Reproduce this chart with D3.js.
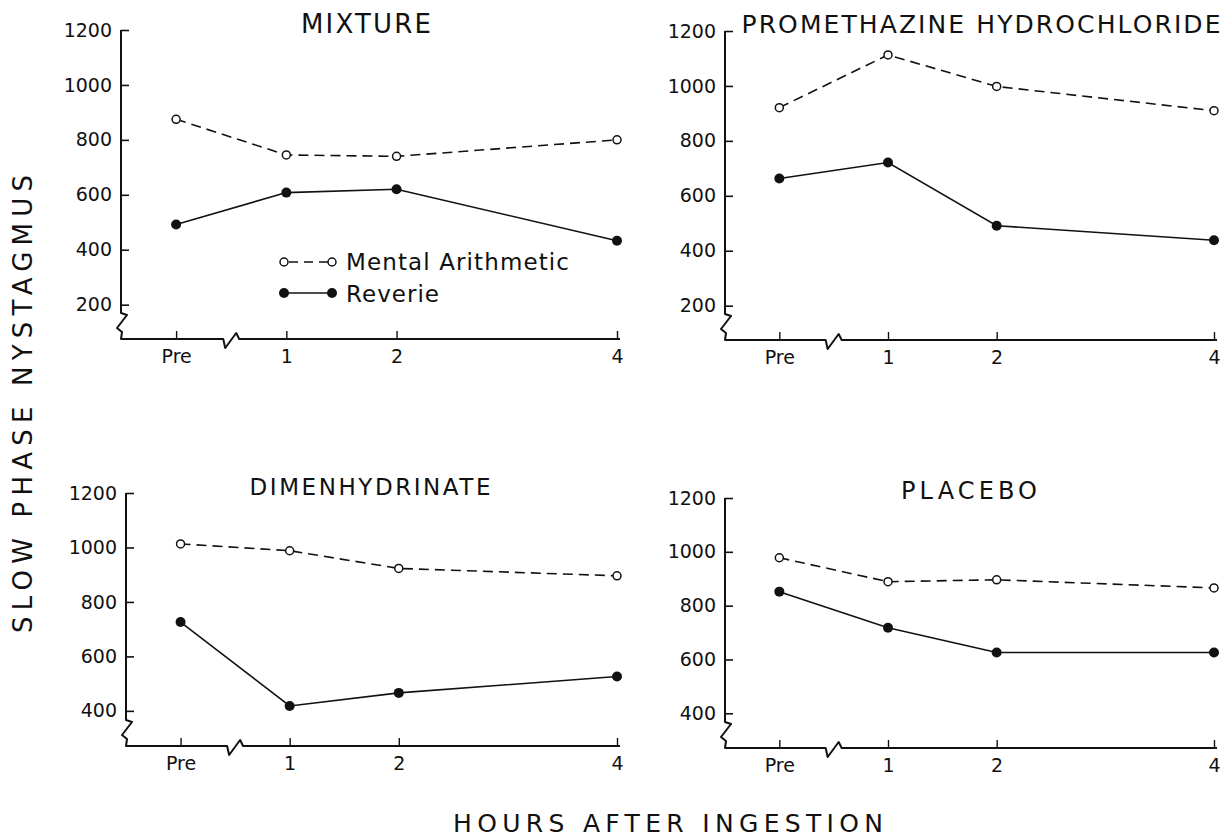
<!DOCTYPE html>
<html>
<head>
<meta charset="utf-8">
<script src="https://cdn.jsdelivr.net/npm/d3@7"></script>
<style>
  html, body { margin: 0; padding: 0; background: #fff; }
  svg { display: block; }
  svg text { font-family: "DejaVu Sans", "Liberation Sans", sans-serif; }
</style>
</head>
<body>
<svg id="chart" width="1231" height="839"></svg>
<script>
// ---- data ----
const hourLabels = ["Pre", "1", "2", "4"];
const hourValues = [0, 1, 2, 4];
const panelTitles = ["MIXTURE", "PROMETHAZINE HYDROCHLORIDE", "DIMENHYDRINATE", "PLACEBO"];
const seriesNames = ["Mental Arithmetic", "Reverie"];

const mixtureMental = [875, 745, 740, 800];
const mixtureReverie = [492, 608, 620, 433];
const promethazineMental = [921, 1113, 998, 910];
const promethazineReverie = [663, 721, 491, 438];
const dimenhydrinateMental = [1013, 988, 923, 896];
const dimenhydrinateReverie = [726, 418, 466, 526];
const placeboMental = [978, 889, 896, 866];
const placeboReverie = [852, 718, 626, 626];

const topTicks = [200, 400, 600, 800, 1000, 1200];
const bottomTicks = [400, 600, 800, 1000, 1200];

const yLabel = "SLOW PHASE NYSTAGMUS";
const xLabel = "HOURS AFTER INGESTION";

// ---- layout ----
const panels = [
  { title: panelTitles[0], mental: mixtureMental, reverie: mixtureReverie, ticks: topTicks, lo: 75,
    x0: 121, x1: 617, yTop: 30, yBot: 339, tx: 366, ty: 33, tlen: 130, tfs: 26, legend: true },
  { title: panelTitles[1], mental: promethazineMental, reverie: promethazineReverie, ticks: topTicks, lo: 75,
    x0: 725, x1: 1214, yTop: 31, yBot: 340, tx: 981, ty: 33, tlen: 479, tfs: 25 },
  { title: panelTitles[2], mental: dimenhydrinateMental, reverie: dimenhydrinateReverie, ticks: bottomTicks, lo: 271,
    x0: 126, x1: 617, yTop: 493, yBot: 746, tx: 370, ty: 495, tlen: 241, tfs: 23 },
  { title: panelTitles[3], mental: placeboMental, reverie: placeboReverie, ticks: bottomTicks, lo: 271,
    x0: 725, x1: 1214, yTop: 498, yBot: 748, tx: 969, ty: 499, tlen: 136, tfs: 24 }
];

const svg = d3.select("#chart");
const ink = "#111";
const fontFam = '"DejaVu Sans", "Liberation Sans", sans-serif';

panels.forEach(p => {
  const x = d3.scaleLinear().domain([-0.5, 4]).range([p.x0, p.x1]);
  const y = d3.scaleLinear().domain([p.lo, 1200]).range([p.yBot, p.yTop]);
  const g = svg.append("g");

  // y axis ticks and labels (ticks point inward)
  const yAx = d3.axisLeft(y).tickValues(p.ticks).tickSize(-8).tickPadding(9).tickFormat(d3.format("d"));
  const gy = g.append("g").attr("transform", `translate(${p.x0},0)`).call(yAx)
    .attr("font-family", fontFam);
  gy.select(".domain").remove();
  gy.selectAll(".tick line").attr("stroke", ink).attr("stroke-width", 1.6);
  gy.selectAll(".tick text").attr("fill", ink).style("font-size", "19px");

  // x axis ticks and labels
  const xAx = d3.axisBottom(x).tickValues(hourValues).tickSize(-8).tickPadding(11)
    .tickFormat((d, i) => hourLabels[i]);
  const gx = g.append("g").attr("transform", `translate(0,${p.yBot})`).call(xAx)
    .attr("font-family", fontFam);
  gx.select(".domain").remove();
  gx.selectAll(".tick line").attr("stroke", ink).attr("stroke-width", 1.4);
  gx.selectAll(".tick text").attr("fill", ink).style("font-size", "19px");

  // axis lines with break marks
  const ax = p.x0, yb = p.yBot, yBs = yb - 26, xb = x(0.5);
  const path = d3.path();
  path.moveTo(ax, y(1200));
  path.lineTo(ax, yBs);
  path.lineTo(ax + 6, yBs + 2);
  path.lineTo(ax - 4, yBs + 15);
  path.lineTo(ax + 1, yBs + 19);
  path.lineTo(ax, yb);
  path.lineTo(xb - 8, yb);
  path.lineTo(xb - 6, yb + 9);
  path.lineTo(xb + 5, yb - 6);
  path.lineTo(xb + 8, yb);
  path.lineTo(p.x1 + 3, yb);
  g.append("path").attr("d", path.toString()).attr("fill", "none")
    .attr("stroke", ink).attr("stroke-width", 2).attr("stroke-linejoin", "round");

  // lines
  const line = d3.line().x((d, i) => x(hourValues[i])).y(d => y(d));
  g.append("path").datum(p.mental).attr("d", line).attr("fill", "none")
    .attr("stroke", ink).attr("stroke-width", 1.6).attr("stroke-dasharray", "10,6");
  g.append("path").datum(p.reverie).attr("d", line).attr("fill", "none")
    .attr("stroke", ink).attr("stroke-width", 1.6);

  g.selectAll(".mpt").data(p.mental).join("circle")
    .attr("cx", (d, i) => x(hourValues[i])).attr("cy", d => y(d)).attr("r", 4)
    .attr("fill", "#fff").attr("stroke", ink).attr("stroke-width", 1.5);
  g.selectAll(".rpt").data(p.reverie).join("circle")
    .attr("cx", (d, i) => x(hourValues[i])).attr("cy", d => y(d)).attr("r", 5)
    .attr("fill", ink);

  // title
  g.append("text").attr("x", p.tx).attr("y", p.ty).attr("text-anchor", "middle")
    .attr("textLength", p.tlen).attr("lengthAdjust", "spacing")
    .style("font-size", p.tfs + "px").attr("fill", ink).text(p.title);

  // legend
  if (p.legend) {
    const lx0 = 284, lx1 = 332, ly0 = 262, ly1 = 293;
    const lg = g.append("g");
    lg.append("line").attr("x1", lx0).attr("x2", lx1).attr("y1", ly0).attr("y2", ly0)
      .attr("stroke", ink).attr("stroke-width", 1.6).attr("stroke-dasharray", "9,6").attr("stroke-dashoffset", -5);
    [lx0, lx1].forEach(cx => lg.append("circle").attr("cx", cx).attr("cy", ly0).attr("r", 4)
      .attr("fill", "#fff").attr("stroke", ink).attr("stroke-width", 1.5));
    lg.append("line").attr("x1", lx0).attr("x2", lx1).attr("y1", ly1).attr("y2", ly1)
      .attr("stroke", ink).attr("stroke-width", 1.6);
    [lx0, lx1].forEach(cx => lg.append("circle").attr("cx", cx).attr("cy", ly1).attr("r", 5).attr("fill", ink));
    lg.append("text").attr("x", 346).attr("y", 270).attr("textLength", 223).attr("lengthAdjust", "spacing")
      .style("font-size", "23px").attr("fill", ink).text(seriesNames[0]);
    lg.append("text").attr("x", 346).attr("y", 302).attr("textLength", 93).attr("lengthAdjust", "spacing")
      .style("font-size", "23px").attr("fill", ink).text(seriesNames[1]);
  }
});

// axis titles
svg.append("text").attr("transform", "translate(32,404) rotate(-90)")
  .attr("text-anchor", "middle").attr("textLength", 458).attr("lengthAdjust", "spacing")
  .style("font-size", "26px").attr("fill", ink).text(yLabel);
svg.append("text").attr("x", 668).attr("y", 832)
  .attr("text-anchor", "middle").attr("textLength", 430).attr("lengthAdjust", "spacing")
  .style("font-size", "25px").attr("fill", ink).text(xLabel);
</script>
</body>
</html>
